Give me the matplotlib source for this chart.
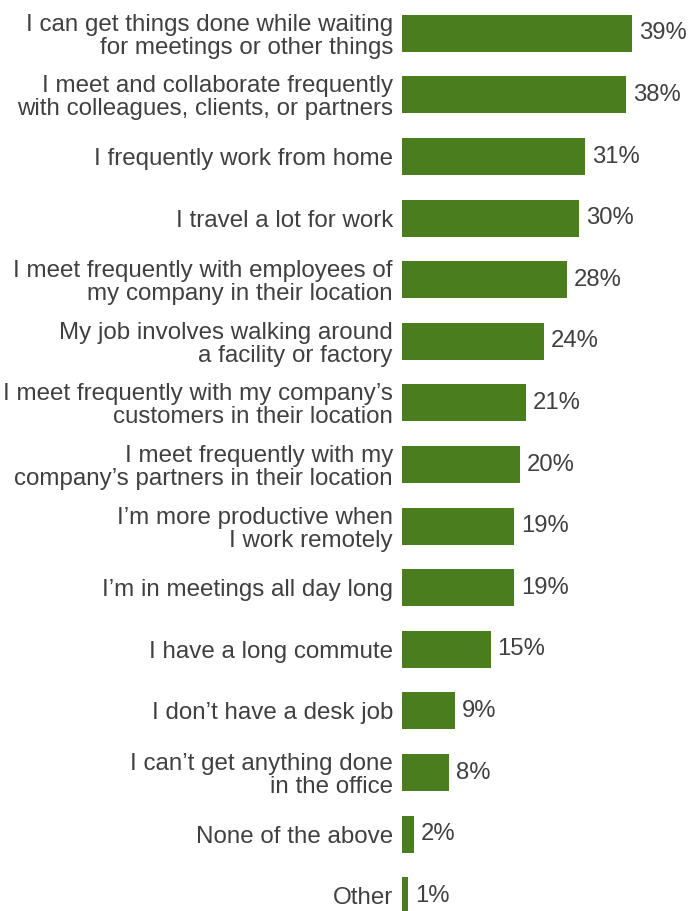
import matplotlib
matplotlib.use("Agg")
import matplotlib.pyplot as plt

plt.rcParams['font.family'] = ['Liberation Sans', 'DejaVu Sans']

categories = [
    "I can get things done while waiting\nfor meetings or other things",
    "I meet and collaborate frequently\nwith colleagues, clients, or partners",
    "I frequently work from home",
    "I travel a lot for work",
    "I meet frequently with employees of\nmy company in their location",
    "My job involves walking around\na facility or factory",
    "I meet frequently with my company\u2019s\ncustomers in their location",
    "I meet frequently with my\ncompany\u2019s partners in their location",
    "I\u2019m more productive when\nI work remotely",
    "I\u2019m in meetings all day long",
    "I have a long commute",
    "I don\u2019t have a desk job",
    "I can\u2019t get anything done\nin the office",
    "None of the above",
    "Other",
]
values = [39, 38, 31, 30, 28, 24, 21, 20, 19, 19, 15, 9, 8, 2, 1]

bar_color = "#4a7d1e"
text_color = "#404040"

W, H = 688, 911
fig = plt.figure(figsize=(W / 100, H / 100), dpi=100)
ax = fig.add_axes([402 / W, 0, 265.5 / W, 1])

pos = list(range(len(categories)))
ax.barh(pos, values, height=0.6, color=bar_color)
ax.set_xlim(0, 45)
ax.set_ylim(14.248, -0.541)

ax.set_yticks(pos)
labels = ax.set_yticklabels(categories, fontsize=17.4, color=text_color)
for t in labels:
    t.set_linespacing(1.06)
ax.tick_params(axis='y', length=0, pad=6.5)
ax.set_xticks([])
for s in ax.spines.values():
    s.set_visible(False)

for p, v in zip(pos, values):
    ax.annotate(f"{v}%", xy=(v, p), xytext=(5, 0), textcoords="offset points",
                ha="left", va="center", fontsize=17.2, color=text_color)

fig.savefig("out.png", dpi=100)
